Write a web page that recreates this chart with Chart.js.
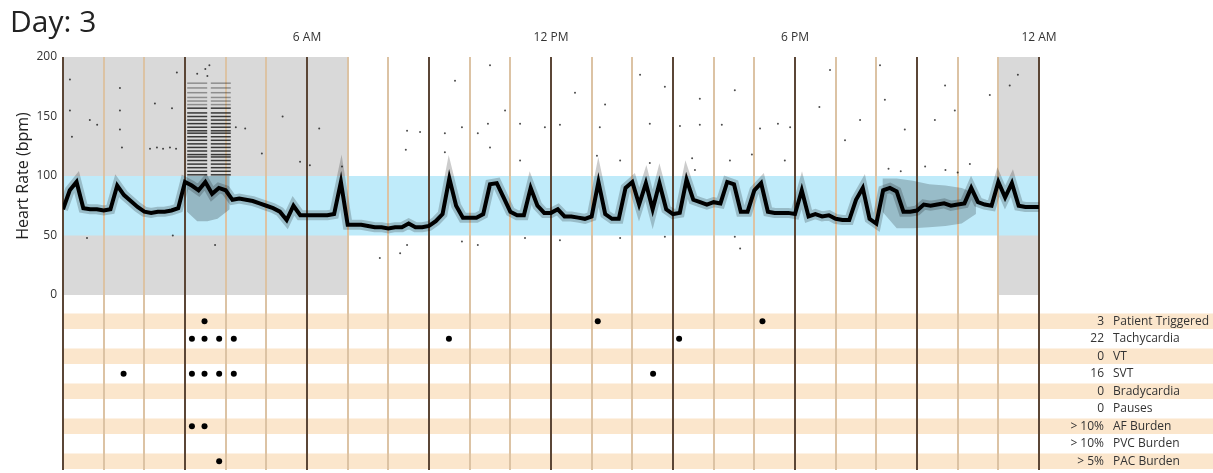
<!DOCTYPE html>
<html>
<head>
<meta charset="utf-8">
<script src="https://cdn.jsdelivr.net/npm/chart.js@4.4.1/dist/chart.umd.min.js"></script>
<style>
  html, body { margin: 0; padding: 0; background: #fff; }
</style>
</head>
<body>
<canvas id="dayChart" width="1213" height="473"></canvas>
<script>
// heart rate trend, one value every 10 minutes from 00:00 to 24:00
const hrTrend = [
  72, 88, 95, 73, 72, 72, 71, 72, 92, 84,
  79, 74, 70, 69, 70, 70, 71, 73, 95, 92,
  88, 95, 85, 90, 88, 80, 81, 80, 79, 77,
  75, 73, 70, 63, 75, 67, 67, 67, 67, 67,
  68, 95, 59, 59, 59, 58, 57, 57, 56, 57,
  57, 60, 57, 57, 58, 62, 68, 98, 75, 65,
  65, 65, 68, 93, 94, 82, 70, 67, 67, 90,
  75, 69, 69, 72, 66, 66, 65, 64, 66, 95,
  68, 64, 64, 90, 95, 76, 94, 72, 94, 72,
  68, 69, 97, 80, 78, 76, 78, 77, 95, 93,
  70, 70, 88, 94, 70, 69, 69, 69, 68, 88,
  66, 68, 66, 67, 64, 63, 63, 80, 90, 64,
  60, 88, 90, 87, 70, 70, 71, 76, 75, 76,
  77, 75, 76, 77, 90, 78, 76, 75, 95, 82,
  94, 75, 74, 74, 74
];

// scattered beats away from the trend
const noiseHours = [0.17, 0.17, 0.22, 1.40, 1.40, 1.40, 1.45, 2.26, 2.68, 2.80, 2.14, 2.31, 2.46, 2.63, 2.78, 0.84, 0.66,
  4.25, 4.89, 4.48, 5.83, 6.07, 6.86, 7.79, 8.29, 3.74, 0.59, 2.70,
  8.46, 8.78, 9.39, 9.81, 10.2, 10.45, 11.24, 11.85, 12.22, 13.2, 14.43, 15.17, 15.66, 16.2, 17.14, 17.58, 17.88,
  8.43, 9.39, 10.5, 11.24, 13.13, 13.7, 14.43, 15.47, 16.4, 16.94, 17.75, 15.54,
  8.46, 9.81, 10.2, 11.36, 12.22, 13.7, 14.8, 16.52, 16.65,
  10.5, 10.87, 14.19, 15.66, 16.52, 18.86, 20.09, 20.21, 21.69, 21.93, 22.79, 23.28, 23.48, 19.6, 20.7, 21.44,
  9.64, 12.59, 13.33, 14.8, 18.6, 19.23, 20.3, 20.6, 21.2, 21.7, 22.0, 22.3, 5.4, 6.3, 3.5, 3.6, 3.3, 3.55];
const noiseBpm = [181, 155, 133, 174, 155, 139, 124, 161, 157, 187, 123, 124, 123, 124, 123, 143, 147,
  141, 119, 140, 112, 109, 108, 31, 35, 42, 48, 50,
  138, 137, 136, 141, 136, 144, 144, 141, 143, 141, 144, 142, 143, 143, 140, 144, 141,
  122, 120, 124, 113, 117, 113, 111, 115, 113, 118, 113, 105,
  42, 45, 42, 48, 46, 48, 49, 49, 39,
  193, 155, 185, 165, 172, 189, 193, 164, 176, 155, 168, 176, 185, 147, 139, 147,
  180, 170, 160, 175, 158, 130, 106, 104, 108, 105, 103, 110, 150, 140, 190, 193, 186, 184];

// horizontal streaks of the 3 AM tachycardia run (bpm levels)
const runHours = [3.30, 3.88];
const runDense = [157, 153, 150, 147, 144, 141, 138, 136, 133, 130, 127, 124, 121, 118, 116, 113, 110, 107, 104, 101];
const runSparse = [178, 174, 170, 166, 163, 160];

// spread of beats in the noisy stretches
const spread1Hours = [3.05, 3.3, 3.55, 3.8, 4.1];
const spread1Lo = [70, 62, 62, 64, 72];
const spread1Hi = [100, 100, 100, 100, 100];
const spread2Hours = [20.15, 20.5, 20.9, 21.3, 21.7, 22.1, 22.45];
const spread2Lo = [70, 56, 56, 57, 58, 60, 68];
const spread2Hi = [98, 98, 96, 93, 92, 90, 85];

const nightRanges = [[0, 7], [23, 24]];
const normalBand = [50, 100];

const tickHours = [6, 12, 18, 24];
const tickLabels = ['6 AM', '12 PM', '6 PM', '12 AM'];

const evNames = ['Patient Triggered', 'Tachycardia', 'VT', 'SVT', 'Bradycardia', 'Pauses', 'AF Burden', 'PVC Burden', 'PAC Burden'];
const evCounts = ['3', '22', '0', '16', '0', '0', '> 10%', '> 10%', '> 5%'];
const evTimes = [
  [3.48, 13.15, 17.2],
  [3.17, 3.48, 3.84, 4.2, 9.49, 15.15],
  [],
  [1.49, 3.17, 3.48, 3.84, 4.2, 14.51],
  [],
  [],
  [3.17, 3.48],
  [],
  [3.84]
];

const dayTitle = 'Day: 3';
const FONT = '"Open Sans", "Noto Sans", sans-serif';
const evAxisLabels = [''].concat(evNames);

function xy(hours, vals) {
  return hours.map(function(h, i) { return { x: h, y: vals[i] }; });
}

const backdrop = {
  id: 'backdrop',
  beforeDraw: function(chart) {
    var ctx = chart.ctx, x = chart.scales.x, y = chart.scales.y, ev = chart.scales.yEv;
    var area = chart.chartArea;
    ctx.save();
    ctx.fillStyle = '#d9d9d9';
    nightRanges.forEach(function(r) {
      var x0 = x.getPixelForValue(r[0]), x1 = x.getPixelForValue(r[1]);
      ctx.fillRect(x0, y.getPixelForValue(200), x1 - x0, y.getPixelForValue(0) - y.getPixelForValue(200));
    });
    ctx.fillStyle = '#bfebfa';
    var b0 = y.getPixelForValue(normalBand[1]), b1 = y.getPixelForValue(normalBand[0]);
    ctx.fillRect(area.left, b0, area.right - area.left, b1 - b0);
    ctx.fillStyle = '#fbe6cc';
    var rowH = ev.height / evAxisLabels.length;
    for (var i = 1; i < evAxisLabels.length; i += 2) {
      var cy = ev.getPixelForValue(i);
      ctx.fillRect(area.left, cy - rowH / 2 + 1, chart.width - area.left, rowH - 2);
    }
    ctx.restore();
  },
  afterDraw: function(chart) {
    var ctx = chart.ctx, ev = chart.scales.yEv;
    ctx.save();
    ctx.fillStyle = '#222';
    ctx.textBaseline = 'alphabetic';
    ctx.textAlign = 'left';
    ctx.font = '30px ' + FONT;
    ctx.fillText(dayTitle, 10, 32);
    ctx.font = '12px ' + FONT;
    ctx.fillStyle = '#333';
    ctx.textBaseline = 'middle';
    evNames.forEach(function(name, i) {
      var cy = ev.getPixelForValue(i + 1);
      ctx.textAlign = 'right';
      ctx.fillText(evCounts[i], 1104, cy);
      ctx.textAlign = 'left';
      ctx.fillText(name, 1113, cy);
    });
    ctx.restore();
  }
};

var eventPoints = [];
evTimes.forEach(function(times, i) {
  times.forEach(function(t) { eventPoints.push({ x: t, y: evNames[i] }); });
});

function streaks(levels, color) {
  var pts = [];
  runHours.forEach(function(h) { levels.forEach(function(v) { pts.push({ x: h, y: v }); }); });
  return {
    type: 'scatter', data: pts, yAxisID: 'y',
    pointStyle: 'line', pointRadius: 10, pointBorderWidth: 1.5,
    borderColor: color, backgroundColor: color
  };
}

function fitLeft(s) {
  s.width = 53;
  s.paddingTop = 0;
  s.paddingBottom = 0;
}

var trendPoints = hrTrend.map(function(v, i) { return { x: i / 6, y: v }; });

new Chart(document.getElementById('dayChart'), {
  type: 'scatter',
  data: {
    datasets: [
      {
        type: 'line', data: trendPoints,
        yAxisID: 'y', borderColor: '#000', borderWidth: 4, pointRadius: 0, tension: 0, fill: false
      },
      {
        // soft fringe of beats around the trend
        type: 'line', data: trendPoints,
        yAxisID: 'y', borderColor: 'rgba(0,0,0,0.2)', borderWidth: 10, pointRadius: 0, tension: 0, fill: false
      },
      streaks(runDense, 'rgba(0,0,0,0.75)'),
      streaks(runSparse, 'rgba(0,0,0,0.35)'),
      {
        type: 'scatter', data: xy(noiseHours, noiseBpm), yAxisID: 'y',
        pointRadius: 1, backgroundColor: 'rgba(0,0,0,0.7)', borderWidth: 0
      },
      {
        type: 'line', data: xy(spread1Hours, spread1Lo), yAxisID: 'y',
        borderWidth: 0, pointRadius: 0, fill: false
      },
      {
        type: 'line', data: xy(spread1Hours, spread1Hi), yAxisID: 'y',
        borderWidth: 0, pointRadius: 0, fill: '-1', backgroundColor: 'rgba(0,0,0,0.22)'
      },
      {
        type: 'line', data: xy(spread2Hours, spread2Lo), yAxisID: 'y',
        borderWidth: 0, pointRadius: 0, fill: false
      },
      {
        type: 'line', data: xy(spread2Hours, spread2Hi), yAxisID: 'y',
        borderWidth: 0, pointRadius: 0, fill: '-1', backgroundColor: 'rgba(0,0,0,0.2)'
      },
      {
        type: 'scatter', data: eventPoints, yAxisID: 'yEv',
        pointRadius: 3, backgroundColor: '#000', borderWidth: 0
      }
    ]
  },
  options: {
    responsive: false,
    animation: false,
    layout: { autoPadding: false, padding: { left: 10, right: 174, top: 0, bottom: 3 } },
    scales: {
      x: {
        type: 'linear', position: 'top', min: 0, max: 24,
        afterFit: function(s) { s.height = 57; },
        ticks: {
          stepSize: 1, autoSkip: false, maxRotation: 0, padding: 12,
          color: '#333', font: { family: FONT, size: 12 },
          callback: function(v) { var k = tickHours.indexOf(v); return k < 0 ? '' : tickLabels[k]; }
        },
        grid: {
          drawTicks: false, lineWidth: 2,
          color: function(c) { return c.tick && c.tick.value % 3 === 0 ? '#5b4636' : '#dcc3a4'; }
        },
        border: { display: false }
      },
      yEv: {
        type: 'category', labels: evAxisLabels, position: 'left', stack: 'day', stackWeight: 175,
        offset: true,
        afterFit: fitLeft,
        ticks: { display: false },
        grid: { display: false, drawTicks: false },
        border: { display: false }
      },
      y: {
        type: 'linear', position: 'left', stack: 'day', stackWeight: 238, min: 0, max: 200,
        afterFit: fitLeft,
        ticks: { stepSize: 50, padding: 6, color: '#333', font: { family: FONT, size: 12 } },
        grid: { display: false, drawTicks: false },
        border: { display: false },
        title: {
          display: true, text: 'Heart Rate (bpm)', color: '#222',
          font: { family: FONT, size: 16 }, padding: { top: 4, bottom: 0 }
        }
      }
    },
    plugins: {
      legend: { display: false },
      tooltip: { enabled: false },
      title: { display: false }
    }
  },
  plugins: [backdrop]
});
</script>
</body>
</html>
